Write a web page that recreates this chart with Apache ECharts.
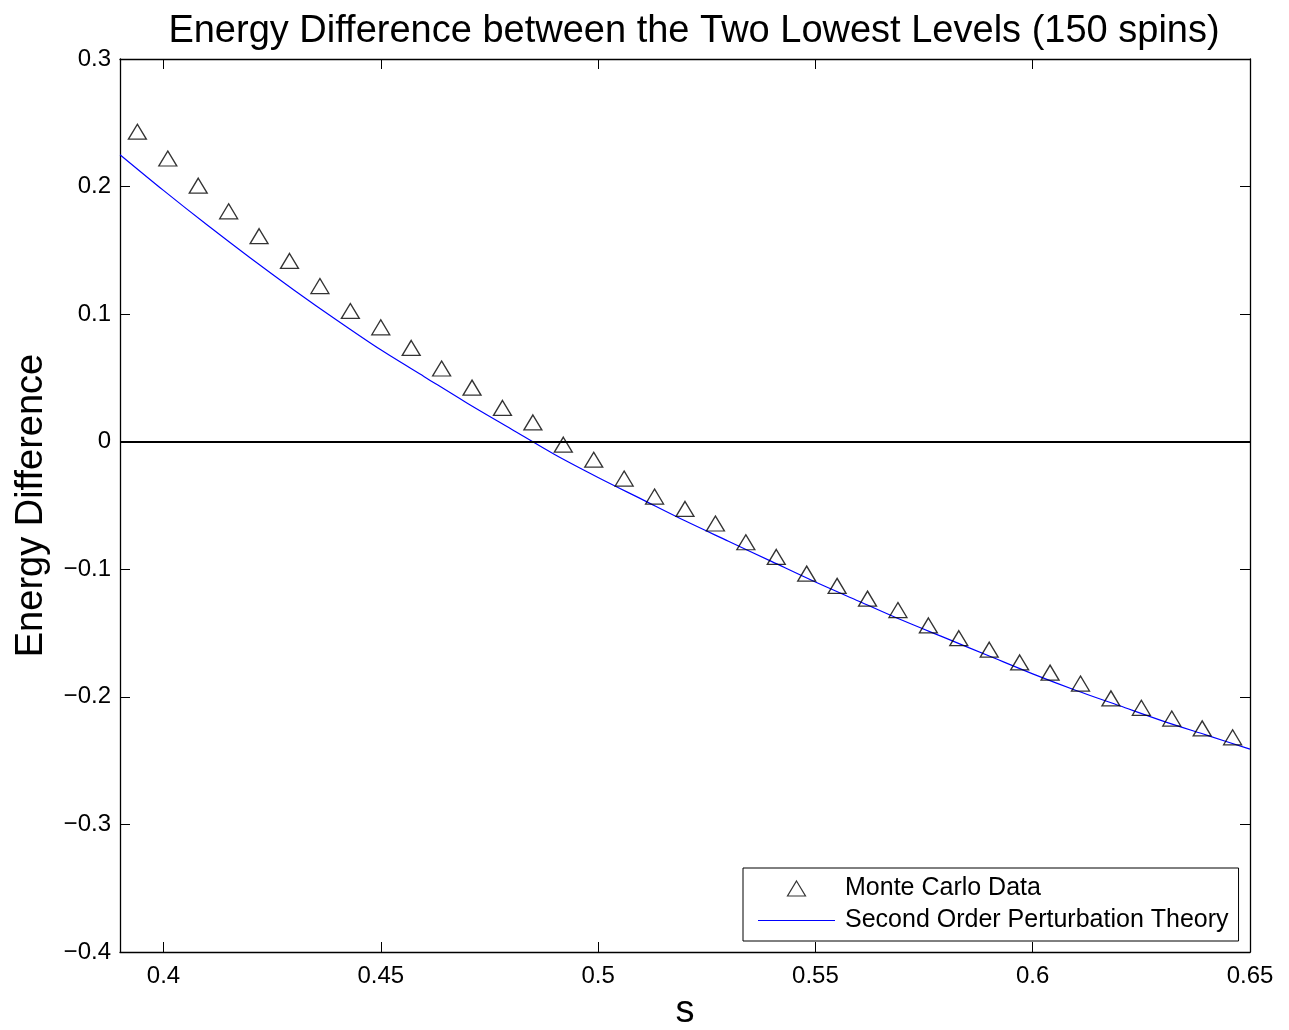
<!DOCTYPE html>
<html>
<head>
<meta charset="utf-8">
<script src="https://cdn.jsdelivr.net/npm/echarts@6/dist/echarts.min.js"></script>
<style>html,body{margin:0;padding:0;background:#fff}#c{width:1289px;height:1030px}</style>
</head>
<body>
<div id="c"></div>
<script>
// Monte Carlo data (s, energy difference)
const mcS = [0.394,0.401,0.408,0.415,0.422,0.429,0.436,0.443,0.450,0.457,0.464,0.471,0.478,0.485,0.492,0.499,0.506,0.513,0.520,0.527,0.534,0.541,0.548,0.555,0.562,0.569,0.576,0.583,0.590,0.597,0.604,0.611,0.618,0.625,0.632,0.639,0.646];
const mcE = [0.243,0.222,0.2007,0.1806,0.1611,0.1417,0.1220,0.1025,0.0897,0.0735,0.0574,0.0424,0.0265,0.0151,-0.0023,-0.0141,-0.0289,-0.043,-0.0527,-0.0641,-0.0788,-0.0903,-0.1034,-0.113,-0.123,-0.132,-0.144,-0.154,-0.163,-0.173,-0.181,-0.1896,-0.2012,-0.2086,-0.217,-0.2247,-0.2317];
// Second order perturbation theory curve
const thS = [0.39,0.40,0.41,0.42,0.43,0.44,0.45,0.46,0.47,0.48,0.49,0.50,0.51,0.52,0.53,0.54,0.55,0.56,0.57,0.58,0.59,0.60,0.61,0.62,0.63,0.64,0.65];
const thE = [0.225,0.197,0.170,0.144,0.119,0.095,0.072,0.051,0.030,0.010,-0.010,-0.028,-0.045,-0.062,-0.078,-0.094,-0.110,-0.125,-0.140,-0.154,-0.168,-0.182,-0.195,-0.207,-0.219,-0.230,-0.241];
// Axis ticks
const xTicks = [0.4,0.45,0.5,0.55,0.6,0.65];
const xMin = 0.39, xMax = 0.65;
const yMin = -0.4, yMax = 0.3, yStep = 0.1;

const FONT = 'Liberation Sans, Arial, Helvetica, sans-serif';
const chart = echarts.init(document.getElementById('c'));
const fmtY = v => { const r = Math.round(v * 10) / 10; return r < 0 ? '\u2212' + (-r) : String(r); };
const tickStyle = { show: true, inside: true, length: 10, lineStyle: { color: '#000', width: 1 } };
const axisLine = { show: true, onZero: false, lineStyle: { color: '#000', width: 1.3 } };

chart.setOption({
  animation: false,
  backgroundColor: '#fff',
  title: {
    text: 'Energy Difference between the Two Lowest Levels (150 spins)',
    left: 689, top: 8, textAlign: 'center',
    textStyle: { fontFamily: FONT, fontSize: 38, fontWeight: 'normal', color: '#000' }
  },
  grid: { left: 120, top: 59, right: 39, bottom: 78, containLabel: false, outerBoundsMode: 'none' },
  legend: {
    orient: 'vertical', left: 743, top: 868,
    padding: [8, 10, 8, 15], itemGap: 7,
    itemWidth: 77, itemHeight: 15,
    symbolKeepAspect: true,
    backgroundColor: '#fff', borderColor: '#000', borderWidth: 1,
    textStyle: { fontFamily: FONT, fontSize: 25, color: '#000', padding: [0, 0, 0, 5] },
    data: [
      { name: 'Monte Carlo Data', icon: 'path://M9,0 L18,15 L0,15 Z', itemStyle: { color: 'rgba(0,0,0,0)', borderColor: '#000', borderWidth: 1.2 } },
      { name: 'Second Order Perturbation Theory', icon: 'path://M0,0 H77 V1 H0 Z', itemStyle: { color: '#0000ff', borderWidth: 0 } }
    ]
  },
  xAxis: [
    {
      type: 'value', min: xMin, max: xMax, position: 'bottom',
      name: 's', nameLocation: 'middle', nameGap: 41, nameMoveOverlap: false,
      nameTextStyle: { fontFamily: FONT, fontSize: 38, color: '#000' },
      axisLine: axisLine,
      axisTick: Object.assign({ customValues: xTicks }, tickStyle),
      axisLabel: { customValues: xTicks, margin: 12, fontFamily: FONT, fontSize: 24, color: '#000', formatter: v => String(Math.round(v * 100) / 100) },
      splitLine: { show: false }
    },
    {
      type: 'value', min: xMin, max: xMax, position: 'top',
      axisLine: axisLine,
      axisTick: Object.assign({ customValues: xTicks }, tickStyle),
      axisLabel: { show: false },
      splitLine: { show: false }
    }
  ],
  yAxis: [
    {
      type: 'value', min: yMin, max: yMax, interval: yStep, position: 'left',
      name: 'Energy Difference', nameLocation: 'middle', nameGap: 69, nameMoveOverlap: false,
      nameTextStyle: { fontFamily: FONT, fontSize: 38, color: '#000' },
      axisLine: axisLine,
      axisTick: tickStyle,
      axisLabel: { margin: 9, fontFamily: FONT, fontSize: 24, color: '#000', formatter: fmtY },
      splitLine: { show: false }
    },
    {
      type: 'value', min: yMin, max: yMax, interval: yStep, position: 'right',
      axisLine: axisLine,
      axisTick: tickStyle,
      axisLabel: { show: false },
      splitLine: { show: false }
    }
  ],
  series: [
    {
      name: 'Second Order Perturbation Theory', type: 'line',
      xAxisIndex: 0, yAxisIndex: 0,
      data: thS.map((s, i) => [s, thE[i]]),
      symbol: 'none', smooth: 0.3,
      lineStyle: { color: '#0000ff', width: 1.2 },
      itemStyle: { color: '#0000ff' },
      markLine: {
        silent: true, symbol: 'none', label: { show: false },
        lineStyle: { color: '#000', width: 2, type: 'solid' },
        data: [{ yAxis: 0 }]
      },
      z: 2
    },
    {
      name: 'Monte Carlo Data', type: 'scatter',
      xAxisIndex: 0, yAxisIndex: 0,
      data: mcS.map((s, i) => [s, mcE[i]]),
      symbol: 'triangle', symbolSize: [18, 15],
      itemStyle: { color: 'rgba(0,0,0,0)', borderColor: '#000', borderWidth: 1.3 },
      z: 3
    }
  ]
});
</script>
</body>
</html>
